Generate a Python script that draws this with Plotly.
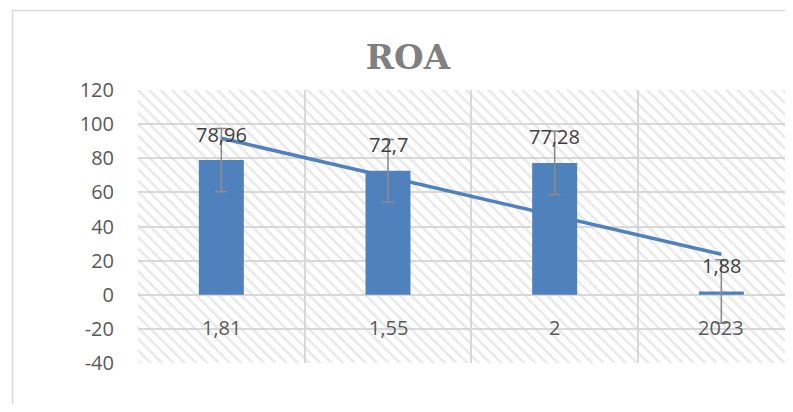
import numpy as np
import plotly.graph_objects as go

# ---- data ----
categories = ["1,81", "1,55", "2", "2023"]
values = [78.96, 72.70, 77.28, 1.88]
value_labels = ["78,96", "72,7", "77,28", "1,88"]
error_vals = [18.5, 18.3, 18.6, 18.6]
y_ticks = [-40, -20, 0, 20, 40, 60, 80, 100, 120]
y_tick_text = ["-40", "-20", "0", "20", "40", "60", "80", "100", "120"]
title_text = "ROA"

# ---- layout constants (page body has an 8px margin) ----
OFF = 8
W, H = 793 - OFF, 412 - 2 * OFF
L, R, T, B = 138 - OFF, 0, 90 - OFF, 49 - OFF
Y_MIN, Y_MAX = -40, 120
X_MIN, X_MAX = -0.5, 3.43

BLUE = "#4f81bd"
GRID = "#d9d9d9"
TXT = "#595959"
FONT = "Open Sans"
FS = 20

x = list(range(len(categories)))

# linear trendline computed from the data
slope, intercept = np.polyfit(x, values, 1)
trend = [intercept + slope * xi for xi in x]

fig = go.Figure()

# hatched plot-area background (main axes, below bars)
fig.add_trace(go.Scatter(
    x=[X_MIN, 3.6, 3.6, X_MIN, X_MIN],
    y=[Y_MIN, Y_MIN, Y_MAX, Y_MAX, Y_MIN],
    mode="none", fill="toself",
    fillcolor="rgba(0,0,0,0)",
    fillpattern=dict(shape="\\", fgcolor="#d4d4d4", bgcolor="rgba(0,0,0,0)",
                     size=8, solidity=0.32),
    hoverinfo="skip", showlegend=False,
))

# trendline (behind bars)
fig.add_trace(go.Scatter(
    x=x, y=trend, mode="lines",
    line=dict(color=BLUE, width=3.5),
    showlegend=False, hoverinfo="skip",
))

# bars with error bars on overlaying axes (drawn above)
fig.add_trace(go.Bar(
    x=x, y=values, width=0.27, xaxis="x2", yaxis="y2",
    marker=dict(color=BLUE, line=dict(width=0)),
    error_y=dict(type="data", array=error_vals, visible=True,
                 color="#8c8c8c", thickness=1.6, width=6),
    showlegend=False,
))

annotations = []
for xi, v, lab in zip(x, values, value_labels):
    annotations.append(dict(
        x=xi, y=v, text=lab, showarrow=False, xref="x", yref="y",
        yanchor="middle", yshift=26,
        font=dict(family=FONT, size=FS, color="#404040"),
    ))
for xi, c in zip(x, categories):
    annotations.append(dict(
        x=xi, y=-19, text=c, showarrow=False, xref="x", yref="y",
        yanchor="middle",
        font=dict(family=FONT, size=FS, color=TXT),
    ))

pw = W - L - R
ph = H - T - B
shapes = [dict(
    type="rect", xref="paper", yref="paper", layer="below",
    x0=(12.5 - OFF - L) / pw, x1=(W + 20 - L) / pw,
    y0=-(B + 20) / ph, y1=(ph + T - (10.5 - OFF)) / ph,
    line=dict(color=GRID, width=1.5), fillcolor="rgba(0,0,0,0)",
)]

fig.update_layout(
    width=W, height=H,
    margin=dict(l=L, r=R, t=T, b=B),
    paper_bgcolor="white", plot_bgcolor="white",
    barmode="overlay",
    title=dict(text=title_text, x=(408 - OFF) / W, xanchor="center",
               y=1 - (57 - OFF) / H, yanchor="middle",
               font=dict(family="DejaVu Serif", size=34, color="#808080",
                         weight="bold")),
    xaxis=dict(range=[X_MIN, X_MAX], tickvals=[-0.5, 0.5, 1.5, 2.5, 3.5],
               showticklabels=False, showgrid=True, gridcolor=GRID,
               gridwidth=1.5, zeroline=False, showline=False, ticks=""),
    yaxis=dict(range=[Y_MIN, Y_MAX], tickvals=y_ticks, ticktext=y_tick_text,
               showgrid=True, gridcolor=GRID, gridwidth=1.5, zeroline=False,
               showline=False, ticks="outside", ticklen=19,
               tickcolor="rgba(0,0,0,0)",
               tickfont=dict(family=FONT, size=FS, color=TXT)),
    xaxis2=dict(range=[X_MIN, X_MAX], overlaying="x", visible=False,
                showgrid=False, zeroline=False),
    yaxis2=dict(range=[Y_MIN, Y_MAX], overlaying="y", visible=False,
                showgrid=False, zeroline=False),
    annotations=annotations,
    shapes=shapes,
)

fig.write_html("out.html")
